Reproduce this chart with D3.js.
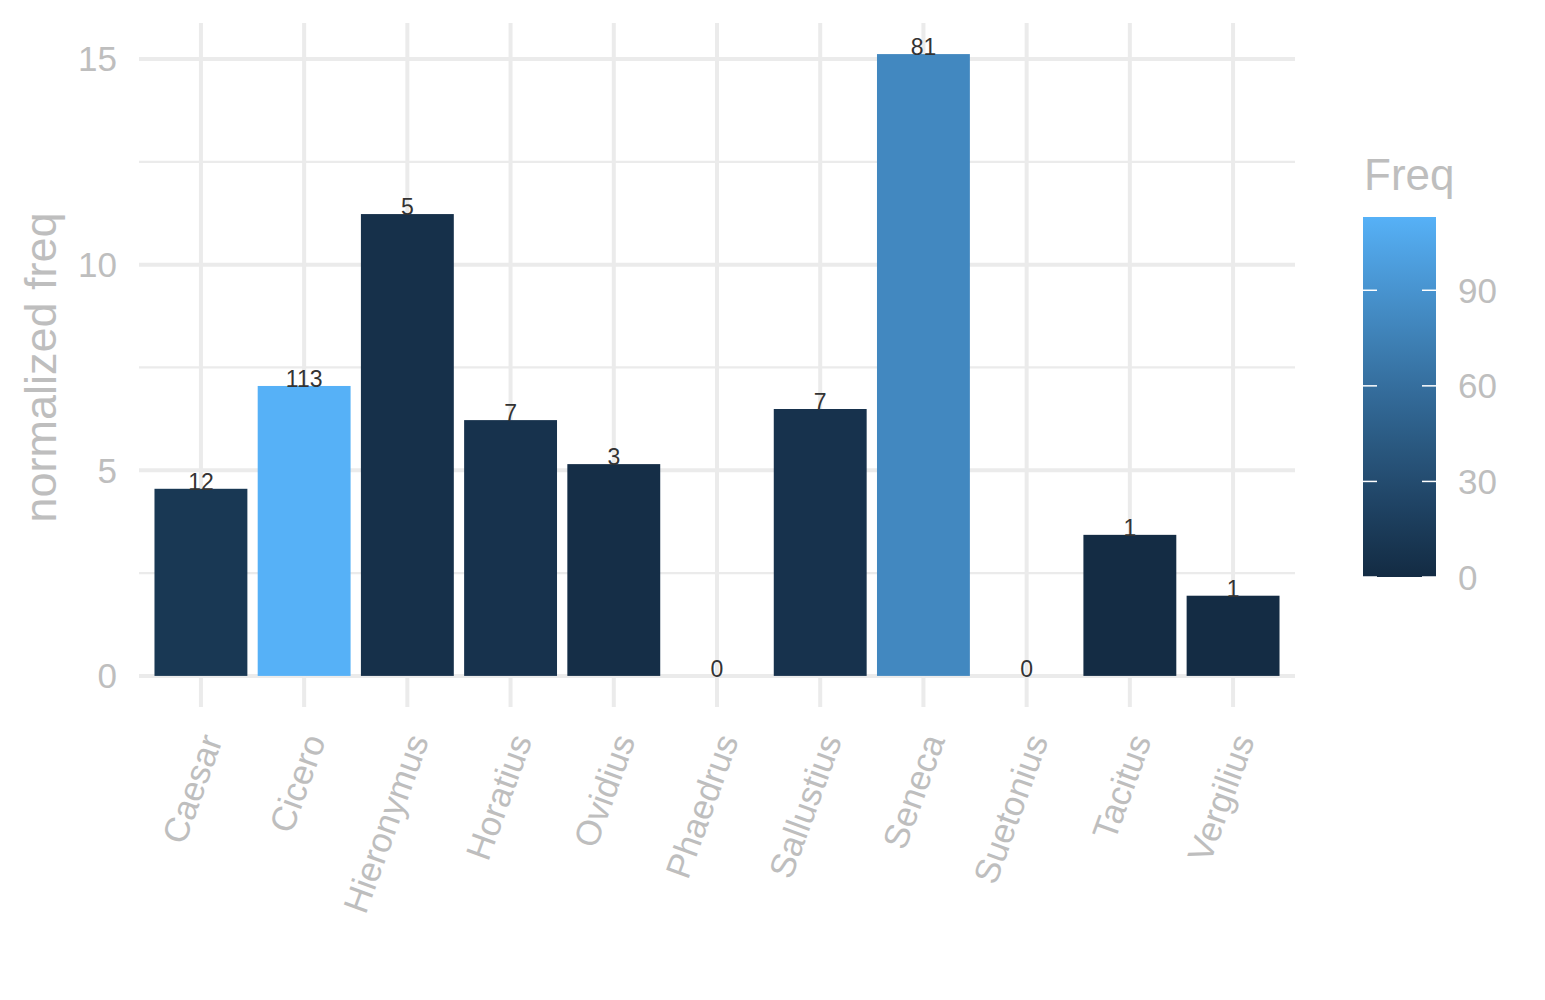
<!DOCTYPE html>
<html>
<head>
<meta charset="utf-8">
<script src="https://cdn.jsdelivr.net/npm/d3@7"></script>
<style>
  body { margin: 0; background: #fff; }
  text { font-family: "Liberation Sans", Arial, sans-serif; }
</style>
</head>
<body>
<svg id="chart" width="1545" height="1000"></svg>
<script>
// data
const authors = ['Caesar', 'Cicero', 'Hieronymus', 'Horatius', 'Ovidius', 'Phaedrus',
                 'Sallustius', 'Seneca', 'Suetonius', 'Tacitus', 'Vergilius'];
const normFreq = [4.55, 7.05, 11.23, 6.22, 5.15, 0, 6.49, 15.12, 0, 3.43, 1.95];
const freq = [12, 113, 5, 7, 3, 0, 7, 81, 0, 1, 1];
const yTicks = [0, 5, 10, 15];
const yMinor = [2.5, 7.5, 12.5];
const legendTicks = [0, 30, 60, 90];

const grey = "#BEBEBE";
const gridCol = "#EBEBEB";

const svg = d3.select("#chart");

// panel
const panelLeft = 139, panelRight = 1295, panelTop = 23, panelBottom = 707;
const ymax = d3.max(normFreq);
const pad = ymax * 0.05;

const x = d3.scaleBand()
    .domain(authors)
    .range([panelLeft, panelRight])
    .paddingInner(0.1)
    .paddingOuter(0.15);

const y = d3.scaleLinear()
    .domain([-pad, ymax + pad])
    .range([panelBottom, panelTop]);

const freqMax = d3.max(freq);
const color = d3.scaleLinear()
    .domain([0, freqMax])
    .range(["#132B43", "#56B1F7"])
    .interpolate(d3.interpolateLab);

///
/// GRID
///
const grid = svg.append("g");
grid.selectAll(".minor")
    .data(yMinor)
    .join("line")
    .attr("class", "minor")
    .attr("x1", panelLeft).attr("x2", panelRight)
    .attr("y1", d => y(d)).attr("y2", d => y(d))
    .attr("stroke", gridCol)
    .attr("stroke-width", 2.2);
grid.selectAll(".major-y")
    .data(yTicks)
    .join("line")
    .attr("class", "major-y")
    .attr("x1", panelLeft).attr("x2", panelRight)
    .attr("y1", d => y(d)).attr("y2", d => y(d))
    .attr("stroke", gridCol)
    .attr("stroke-width", 4);
grid.selectAll(".major-x")
    .data(authors)
    .join("line")
    .attr("class", "major-x")
    .attr("x1", d => x(d) + x.bandwidth() / 2)
    .attr("x2", d => x(d) + x.bandwidth() / 2)
    .attr("y1", panelTop).attr("y2", panelBottom)
    .attr("stroke", gridCol)
    .attr("stroke-width", 4);

///
/// BARS
///
svg.append("g")
    .selectAll("rect")
    .data(authors)
    .join("rect")
    .attr("x", d => x(d))
    .attr("width", x.bandwidth())
    .attr("y", (d, i) => y(normFreq[i]))
    .attr("height", (d, i) => y(0) - y(normFreq[i]))
    .attr("fill", (d, i) => color(freq[i]));

// count labels
svg.append("g")
    .selectAll("text")
    .data(authors)
    .join("text")
    .attr("x", d => x(d) + x.bandwidth() / 2)
    .attr("y", (d, i) => y(normFreq[i]) + 1)
    .attr("text-anchor", "middle")
    .attr("font-size", 23)
    .attr("fill", "#333")
    .text((d, i) => freq[i]);

///
/// AXES
///
svg.append("g")
    .selectAll("text")
    .data(yTicks)
    .join("text")
    .attr("x", 117)
    .attr("y", d => y(d))
    .attr("dy", "0.35em")
    .attr("text-anchor", "end")
    .attr("font-size", 35)
    .attr("fill", grey)
    .text(d => d);

svg.append("g")
    .selectAll("text")
    .data(authors)
    .join("text")
    .attr("transform", d => `translate(${x(d) + x.bandwidth() / 2 + 22}, 740) rotate(-70)`)
    .attr("text-anchor", "end")
    .attr("font-size", 35)
    .attr("fill", grey)
    .text(d => d);

svg.append("text")
    .attr("transform", `translate(56, ${(y(0) + y(15)) / 2}) rotate(-90)`)
    .attr("text-anchor", "middle")
    .attr("font-size", 45)
    .attr("fill", grey)
    .text("normalized freq");

///
/// LEGEND
///
const lx = 1363, lw = 73, ltop = 217, lbot = 577;
const ly = d3.scaleLinear().domain([0, freqMax]).range([lbot, ltop]);

const grad = svg.append("defs").append("linearGradient")
    .attr("id", "freqgrad")
    .attr("x1", 0).attr("x2", 0).attr("y1", 1).attr("y2", 0);
grad.selectAll("stop")
    .data(d3.range(0, 1.0001, 0.1))
    .join("stop")
    .attr("offset", d => d)
    .attr("stop-color", d => color(d * freqMax));

svg.append("text")
    .attr("x", 1364)
    .attr("y", 190)
    .attr("font-size", 44)
    .attr("fill", grey)
    .text("Freq");

svg.append("rect")
    .attr("x", lx).attr("y", ltop)
    .attr("width", lw).attr("height", lbot - ltop)
    .attr("fill", "url(#freqgrad)");

const lt = svg.append("g");
lt.selectAll(".tl")
    .data(legendTicks)
    .join("line")
    .attr("class", "tl")
    .attr("x1", lx).attr("x2", lx + 14)
    .attr("y1", d => ly(d)).attr("y2", d => ly(d))
    .attr("stroke", "#fff").attr("stroke-width", 1.5);
lt.selectAll(".tr")
    .data(legendTicks)
    .join("line")
    .attr("class", "tr")
    .attr("x1", lx + lw - 14).attr("x2", lx + lw)
    .attr("y1", d => ly(d)).attr("y2", d => ly(d))
    .attr("stroke", "#fff").attr("stroke-width", 1.5);
lt.selectAll("text")
    .data(legendTicks)
    .join("text")
    .attr("x", 1458)
    .attr("y", d => ly(d))
    .attr("dy", "0.36em")
    .attr("font-size", 35)
    .attr("fill", grey)
    .text(d => d);
</script>
</body>
</html>
